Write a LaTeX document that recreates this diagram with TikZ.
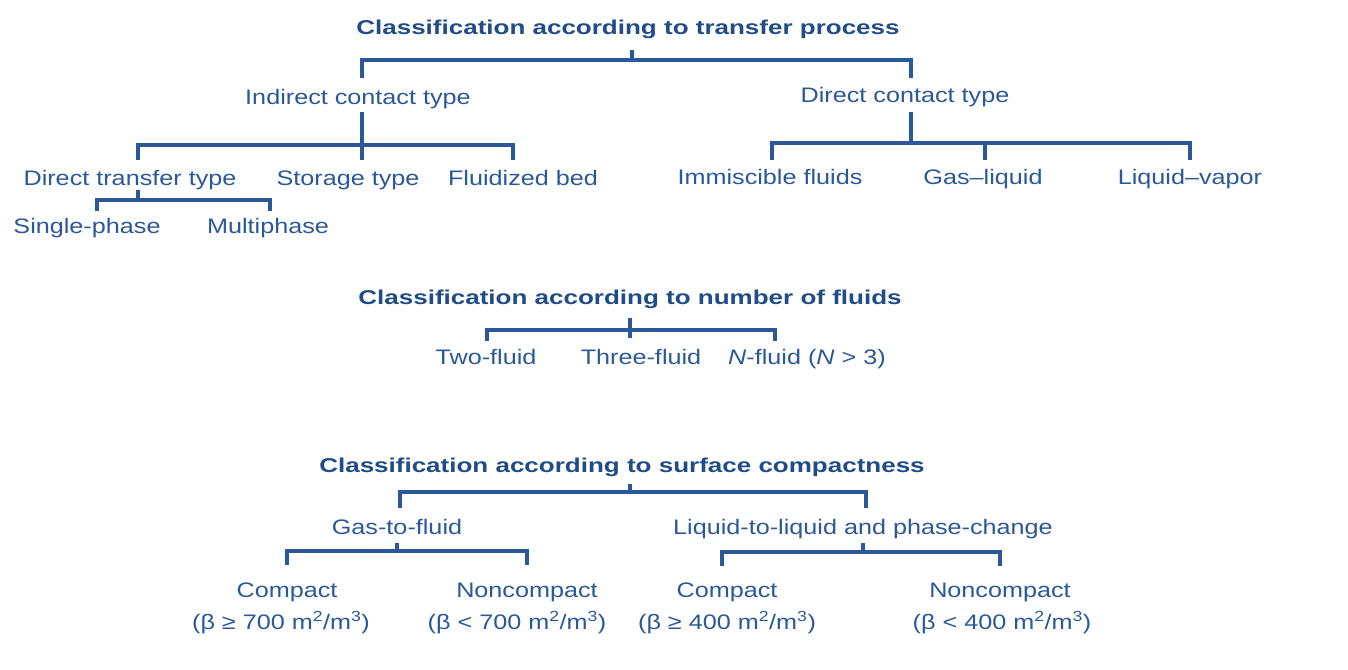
\documentclass[tikz,border=0pt]{standalone}
\usepackage{fontspec}
\setmainfont[FakeStretch=1.2]{Liberation Sans}
\newfontfamily\ttlfamily[FakeStretch=1.3]{Liberation Sans}
\definecolor{lblue}{HTML}{2B5998}
\definecolor{tblue}{HTML}{204C88}
\begin{document}
\begin{tikzpicture}[x=1pt,y=-1pt,
  lbl/.style={text=lblue,font=\fontsize{21}{25}\selectfont,inner sep=0pt,text height=15pt,text depth=0pt,anchor=center},
  ttl/.style={text=tblue,font=\ttlfamily\bfseries\fontsize{20}{24}\selectfont,inner sep=0pt,text height=14pt,text depth=0pt,anchor=center},
  ln/.style={draw=lblue,line width=3.2pt,line cap=butt,line join=miter}]
\fill[white] (0,0) rectangle (1348,669);
\useasboundingbox (0,0) rectangle (1348,669);

% ---------- Section 1: transfer process ----------
\node[ttl] (t1) at (628,28) {Classification according to transfer process};
\node[lbl] (ind) at (358,97) {Indirect contact type};
\node[lbl] (dct) at (905,95) {Direct contact type};
\node[lbl] (dtt) at (130,178) {Direct transfer type};
\node[lbl] (sto) at (348,178) {Storage type};
\node[lbl] (flu) at (523,178) {Fluidized bed};
\node[lbl] (imm) at (770,177) {Immiscible fluids};
\node[lbl] (gl)  at (983,177) {Gas--liquid};
\node[lbl] (lv)  at (1190,177) {Liquid--vapor};
\node[lbl] (sp)  at (87,226) {Single-phase};
\node[lbl] (mp)  at (268,226) {Multiphase};

\coordinate (a0) at (632,50);  \coordinate (a1) at (632,60);
\coordinate (aL) at (362,60);  \coordinate (aR) at (911,60);
\coordinate (aLd) at (362,78); \coordinate (aRd) at (911,78);
\draw[ln] (a0) -- (a1);
\draw[ln] (aLd) -- (aL) -- (aR) -- (aRd);

\coordinate (bS) at (362,112); \coordinate (bM) at (362,145); \coordinate (bSd) at (362,160);
\coordinate (bL) at (138,145); \coordinate (bLd) at (138,160);
\coordinate (bR) at (513,145); \coordinate (bRd) at (513,160);
\draw[ln] (bS) -- (bSd);
\draw[ln] (bLd) -- (bL) -- (bR) -- (bRd);

\coordinate (cS) at (911,112); \coordinate (cM) at (911,143);
\coordinate (cL) at (772,143); \coordinate (cLd) at (772,160);
\coordinate (cC) at (985,143); \coordinate (cCd) at (985,160);
\coordinate (cR) at (1190,143); \coordinate (cRd) at (1190,160);
\draw[ln] (cS) -- (cM);
\draw[ln] (cLd) -- (cL) -- (cR) -- (cRd);
\draw[ln] (cC) -- (cCd);

\coordinate (dS) at (138,190); \coordinate (dM) at (138,200);
\coordinate (dL) at (97,200);  \coordinate (dLd) at (97,211);
\coordinate (dR) at (270,200); \coordinate (dRd) at (270,211);
\draw[ln] (dS) -- (dM);
\draw[ln] (dLd) -- (dL) -- (dR) -- (dRd);

% ---------- Section 2: number of fluids ----------
\node[ttl] (t2) at (630,297) {Classification according to number of fluids};
\node[lbl] (two) at (486,357) {Two-fluid};
\node[lbl] (three) at (641,357) {Three-fluid};
\node[lbl] (nf) at (807,357) {\textit{N}-fluid (\textit{N} > 3)};
\coordinate (eS) at (630,318); \coordinate (eE) at (630,338);
\coordinate (eL) at (487,330); \coordinate (eLd) at (487,341);
\coordinate (eR) at (775,330); \coordinate (eRd) at (775,341);
\draw[ln] (eS) -- (eE);
\draw[ln] (eLd) -- (eL) -- (eR) -- (eRd);

% ---------- Section 3: surface compactness ----------
\node[ttl] (t3) at (622,465) {Classification according to surface compactness};
\node[lbl] (gtf) at (397,527) {Gas-to-fluid};
\node[lbl] (llp) at (863,527) {Liquid-to-liquid and phase-change};
\node[lbl] (c1) at (287,590) {Compact};
\node[lbl] (n1) at (527,590) {Noncompact};
\node[lbl] (c2) at (727,590) {Compact};
\node[lbl] (n2) at (1000,590) {Noncompact};
\node[lbl] (c1b) at (281,622) {(β ≥ 700 m\textsuperscript{2}/m\textsuperscript{3})};
\node[lbl] (n1b) at (517,622) {(β < 700 m\textsuperscript{2}/m\textsuperscript{3})};
\node[lbl] (c2b) at (727,622) {(β ≥ 400 m\textsuperscript{2}/m\textsuperscript{3})};
\node[lbl] (n2b) at (1002,622) {(β < 400 m\textsuperscript{2}/m\textsuperscript{3})};

\coordinate (fS) at (630,484); \coordinate (fM) at (630,492);
\coordinate (fL) at (400,492); \coordinate (fLd) at (400,508);
\coordinate (fR) at (866,492); \coordinate (fRd) at (866,508);
\draw[ln] (fS) -- (fM);
\draw[ln] (fLd) -- (fL) -- (fR) -- (fRd);

\coordinate (gS) at (397,543); \coordinate (gM) at (397,551);
\coordinate (gL) at (287,551); \coordinate (gLd) at (287,565);
\coordinate (gR) at (527,551); \coordinate (gRd) at (527,565);
\draw[ln] (gS) -- (gM);
\draw[ln] (gLd) -- (gL) -- (gR) -- (gRd);

\coordinate (hS) at (863,543); \coordinate (hM) at (863,552);
\coordinate (hL) at (722,552); \coordinate (hLd) at (722,566);
\coordinate (hR) at (1000,552); \coordinate (hRd) at (1000,566);
\draw[ln] (hS) -- (hM);
\draw[ln] (hLd) -- (hL) -- (hR) -- (hRd);
\end{tikzpicture}
\end{document}
